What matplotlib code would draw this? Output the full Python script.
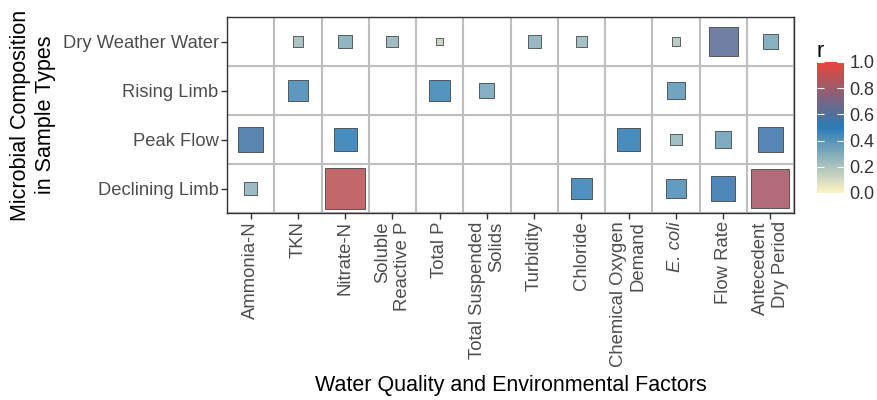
import numpy as np
import matplotlib
matplotlib.use('Agg')
import matplotlib.pyplot as plt
from matplotlib.colors import LinearSegmentedColormap, Normalize
from matplotlib.cm import ScalarMappable

plt.rcParams['font.family'] = ['Liberation Sans', 'DejaVu Sans']

factors = ['Ammonia-N', 'TKN', 'Nitrate-N', 'Soluble\nReactive P', 'Total P',
           'Total Suspended\nSolids', 'Turbidity', 'Chloride',
           'Chemical Oxygen\nDemand', 'E. coli', 'Flow Rate',
           'Antecedent\nDry Period']
samples = ['Dry Weather Water', 'Rising Limb', 'Peak Flow', 'Declining Limb']

nan = np.nan
dry_weather = [nan, 0.23, 0.30, 0.26, 0.15, nan, 0.28, 0.24, nan, 0.19, 0.63, 0.32]
rising_limb = [nan, 0.44, nan, nan, 0.46, 0.33, nan, nan, nan, 0.38, nan, nan]
peak_flow = [0.56, nan, 0.50, nan, nan, nan, nan, nan, 0.49, 0.25, 0.35, 0.55]
declining_limb = [0.27, nan, 0.88, nan, nan, nan, nan, 0.47, nan, 0.42, 0.53, 0.83]

r_rows = [dry_weather, rising_limb, peak_flow, declining_limb]

cmap = LinearSegmentedColormap.from_list(
    'r_cmap', [(0.0, '#FFF3C2'), (0.5, '#2C7BB6'), (1.0, '#E8463A')])
norm = Normalize(0, 1)

fig = plt.figure(figsize=(8.77, 4.0), dpi=100)
ax = fig.add_axes([227 / 877, 1 - 213 / 400, 567 / 877, 196 / 400])

for j, row in enumerate(r_rows):
    vals = np.array(row)
    xs = np.arange(len(factors))[~np.isnan(vals)]
    rs = vals[~np.isnan(vals)]
    ax.scatter(xs, np.full(len(xs), j), s=(33.1 * rs) ** 2, marker='s',
               c=rs, cmap=cmap, norm=norm, alpha=0.88,
               edgecolors='#333333', linewidths=0.6, zorder=3)

ax.set_xlim(-0.5, len(factors) - 0.5)
ax.set_ylim(len(samples) - 0.5, -0.5)
ax.set_xticks(np.arange(len(factors)))
ax.set_xticklabels(factors, rotation=90, ha='center', va='top',
                   multialignment='right', fontsize=13.3, color='#4D4D4D')
ax.get_xticklabels()[factors.index('E. coli')].set_fontstyle('italic')
ax.set_yticks(np.arange(len(samples)))
ax.set_yticklabels(samples, fontsize=13.2, color='#4D4D4D')

ax.set_xticks(np.arange(len(factors) + 1) - 0.5, minor=True)
ax.set_yticks(np.arange(len(samples) + 1) - 0.5, minor=True)
ax.grid(which='minor', color='#BEBEBE', linewidth=1.5)
ax.tick_params(which='minor', length=0)
ax.tick_params(which='major', length=4, width=1, color='#333333', pad=2)
for sp in ax.spines.values():
    sp.set_color('#333333')
    sp.set_linewidth(1.0)

ax.set_xlabel('Water Quality and Environmental Factors', fontsize=15.5, labelpad=6)
ax.set_ylabel('Microbial Composition\nin Sample Types', fontsize=15.5, labelpad=5)

cax = fig.add_axes([817 / 877, 1 - 193 / 400, 27 / 877, 131 / 400])
cb = fig.colorbar(ScalarMappable(norm=norm, cmap=cmap), cax=cax)
cb.outline.set_visible(False)
cb.set_ticks([0, 0.2, 0.4, 0.6, 0.8, 1.0])
cb.ax.set_yticklabels(['0.0', '0.2', '0.4', '0.6', '0.8', '1.0'],
                      fontsize=13, color='#333333')
cb.ax.tick_params(direction='in', color='white', length=5, width=0.8,
                  left=True, right=True, pad=4)
cb.ax.set_title('r', fontsize=15.5, loc='left', pad=3)

fig.savefig('out.png', dpi=100)
